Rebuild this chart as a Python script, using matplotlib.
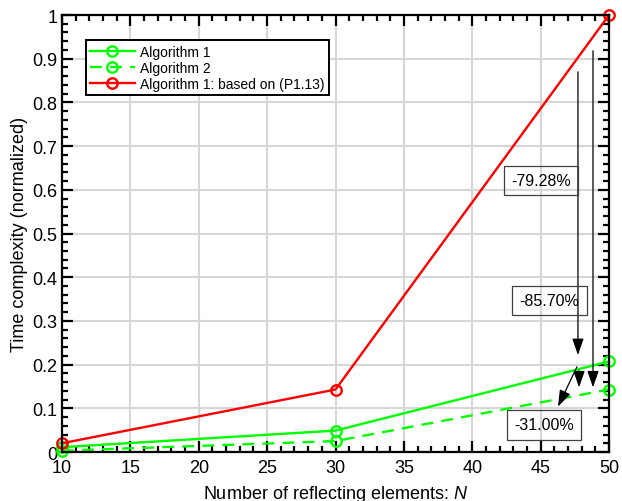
import matplotlib.pyplot as plt
import numpy as np
from matplotlib.ticker import MultipleLocator

plt.rcParams['font.family'] = ['Liberation Sans', 'DejaVu Sans']
plt.rcParams['mathtext.fontset'] = 'custom'
plt.rcParams['mathtext.it'] = 'Liberation Sans:italic'
plt.rcParams['mathtext.rm'] = 'Liberation Sans'

# number of reflecting elements
N = [10, 30, 50]

# normalized time complexity
alg1 = [0.011, 0.049, 0.2072]
alg2 = [0.003, 0.025, 0.1430]
alg1_p113 = [0.020, 0.143, 1.0]

labels = ['Algorithm 1', 'Algorithm 2', 'Algorithm 1: based on (P1.13)']

# reductions: (text, text position, arrow tail, arrow head)
notes = [
    ('-79.28%', (45.05, 0.621), (47.73, 0.870), (47.73, 0.222)),
    ('-85.70%', (45.65, 0.347), (48.83, 0.918), (48.83, 0.148)),
    ('-31.00%', (45.25, 0.062), (47.66, 0.195), (46.27, 0.104)),
]
# leftover short arrow next to the first one
extra_arrow = ((47.81, 0.186), (47.81, 0.148))

fig = plt.figure(figsize=(6.22, 5.02), dpi=100)
ax = fig.add_axes([0.0997, 0.0976, 0.8794, 0.8705])

green = '#00ff00'
red = '#ff0000'
style = dict(lw=1.7, ms=7.5, mfc='none', mew=1.7, clip_on=False, zorder=3)
ax.plot(N, alg1, '-o', color=green, label=labels[0], **style)
ax.plot(N, alg2, '--o', color=green, dashes=(5, 3.5), label=labels[1], **style)
ax.plot(N, alg1_p113, '-o', color=red, label=labels[2], **style)

ax.set_xlim(10, 50)
ax.set_ylim(0, 1)
ax.xaxis.set_major_locator(MultipleLocator(5))
ax.xaxis.set_minor_locator(MultipleLocator(1))
ax.set_yticks(np.round(np.arange(0, 1.01, 0.1), 1))
ax.set_yticklabels(['0', '0.1', '0.2', '0.3', '0.4', '0.5', '0.6', '0.7', '0.8', '0.9', '1'])
ax.yaxis.set_minor_locator(MultipleLocator(0.02))

ax.tick_params(which='both', direction='in', top=True, right=True, width=1.6,
               labelsize=13)
ax.tick_params(axis='x', pad=5)
ax.tick_params(which='major', length=8)
ax.tick_params(which='minor', length=4.5)
for s in ax.spines.values():
    s.set_linewidth(1.6)
    s.set_zorder(4)

ax.grid(True, which='major', color='#d6d6d6', lw=1.5)
ax.set_axisbelow(True)

ax.set_xlabel('Number of reflecting elements: $N$', fontsize=13, labelpad=5)
ax.set_ylabel('Time complexity (normalized)', fontsize=13, labelpad=3)

leg = ax.legend(loc='upper left', bbox_to_anchor=(0.044, 0.942), fontsize=10,
                fancybox=False, edgecolor='black', framealpha=1,
                handlelength=3.2, borderpad=0.3, labelspacing=0.15,
                handletextpad=0.4, borderaxespad=0)
leg.get_frame().set_linewidth(1.4)
leg.set_zorder(5)

head = '-|>,head_length=1.0,head_width=0.35'
for txt, pos, tail, tip in notes:
    ax.annotate('', xy=tip, xytext=tail,
                arrowprops=dict(arrowstyle=head, color='black', lw=0.9,
                                shrinkA=0, shrinkB=0))
    ax.text(pos[0], pos[1], txt, fontsize=11.5, ha='center', va='center',
            bbox=dict(boxstyle='square,pad=0.45', fc='none', ec='#404040', lw=0.9))
ax.annotate('', xy=extra_arrow[1], xytext=extra_arrow[0],
            arrowprops=dict(arrowstyle=head, color='black', lw=0.9,
                            shrinkA=0, shrinkB=0))

fig.savefig('out.png', dpi=100)
